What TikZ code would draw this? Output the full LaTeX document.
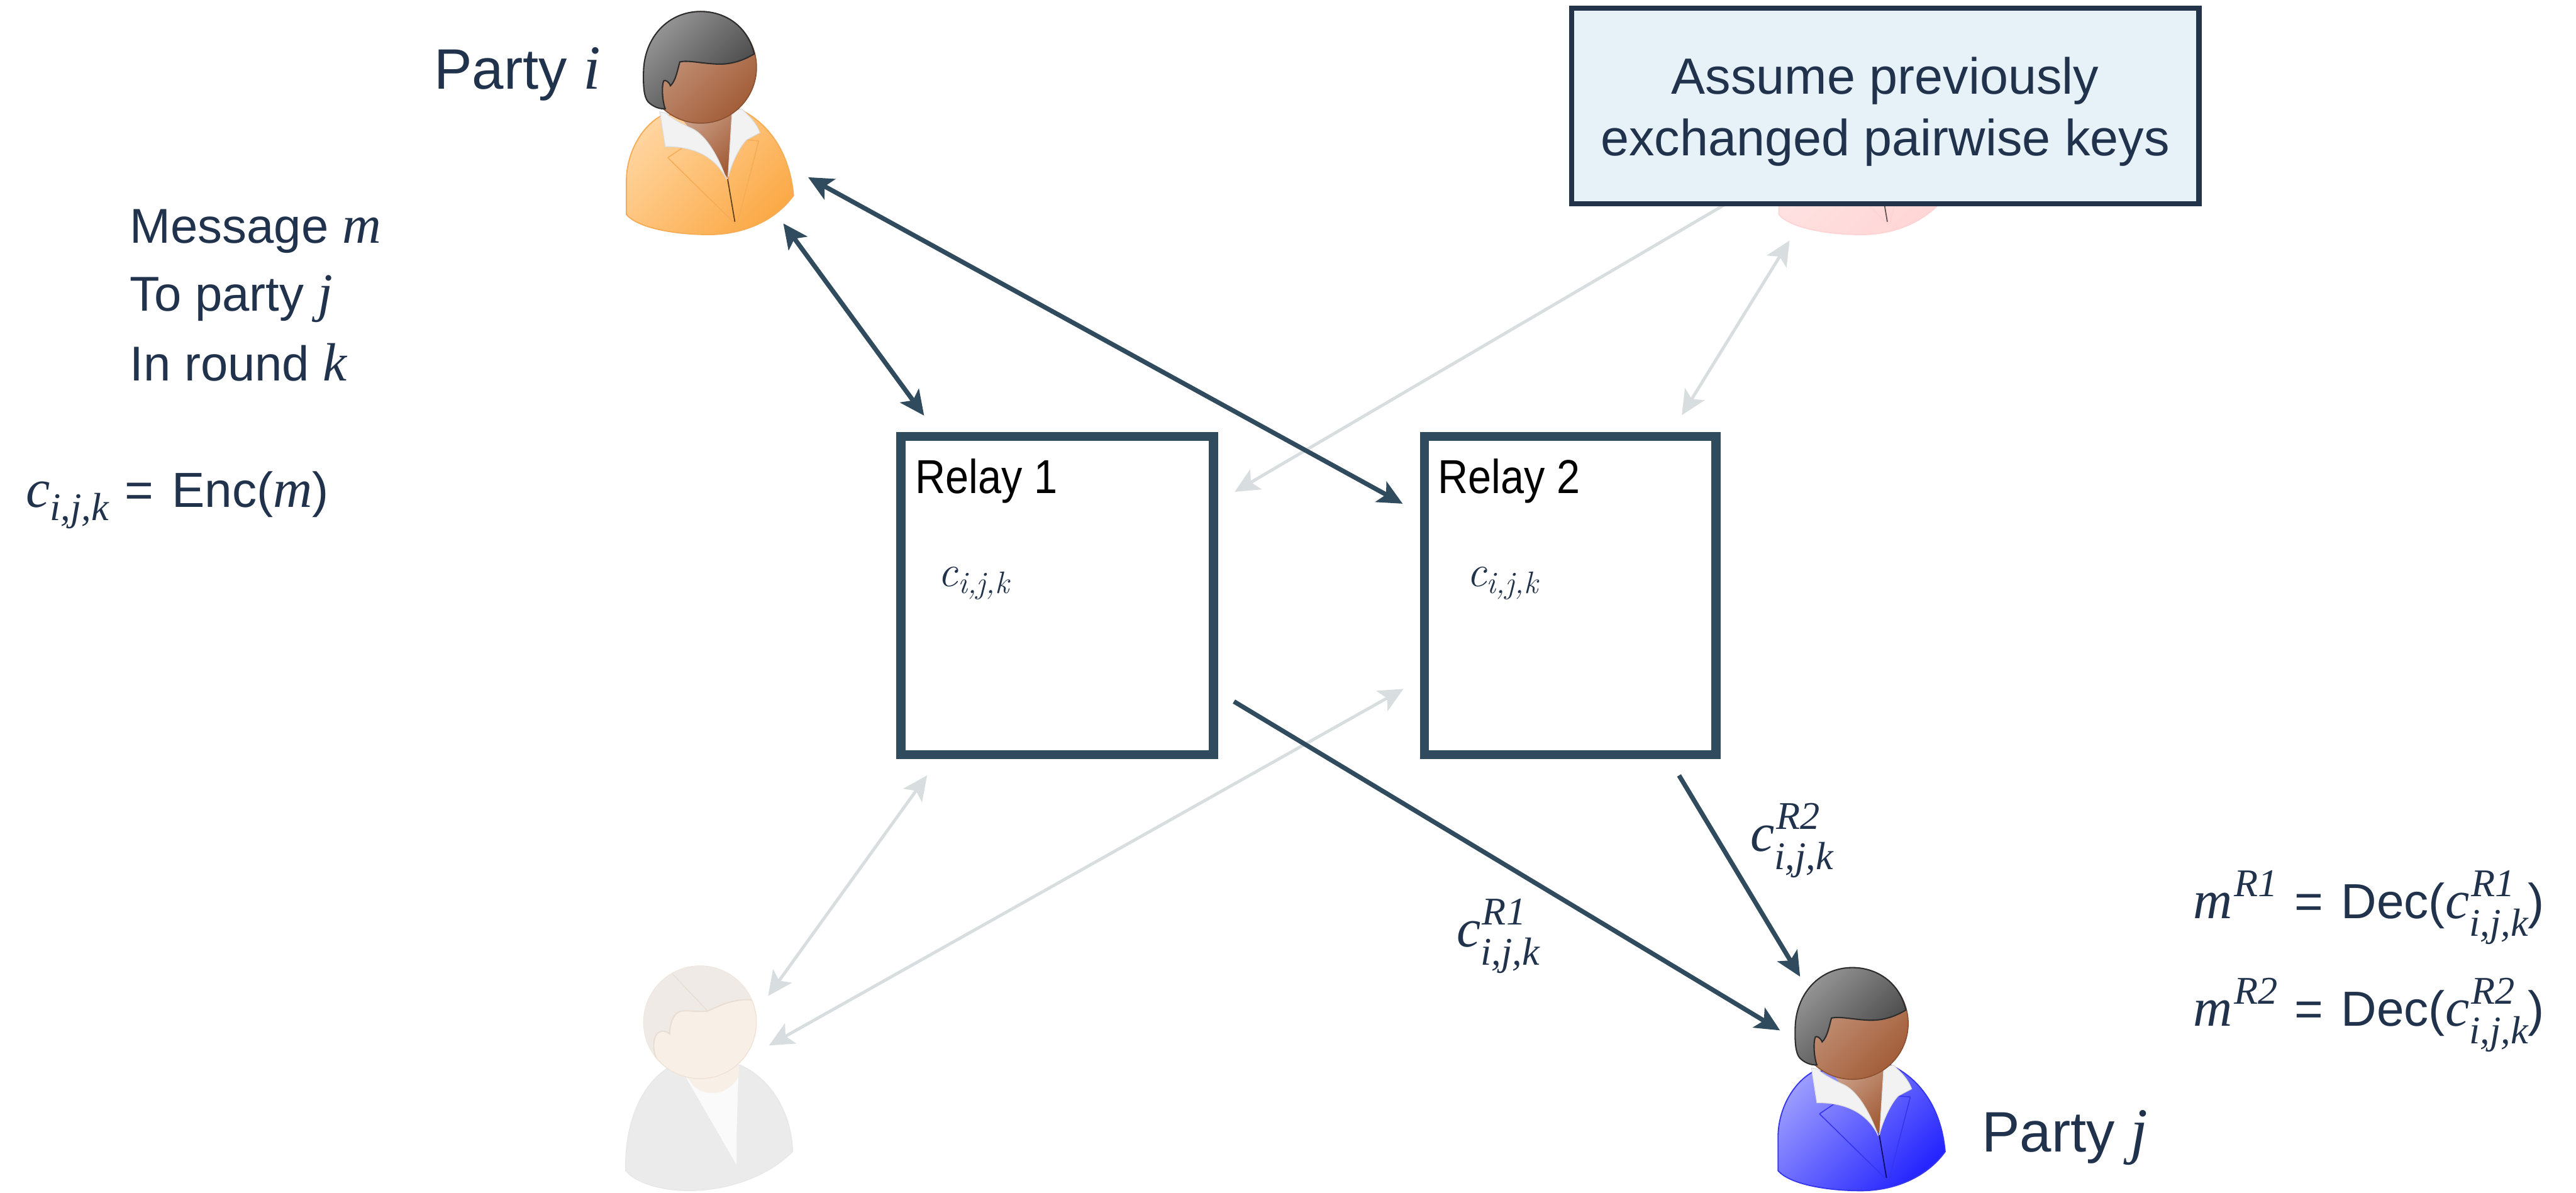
\documentclass[tikz,border=0pt]{standalone}
\usepackage{amsmath}
\usepackage{graphicx}
\usepackage{fontspec}
\setmainfont{Liberation Sans}
\newfontfamily\tms[Scale=1.1]{Liberation Serif}
\newfontfamily\lmr{Latin Modern Roman}
\usetikzlibrary{arrows.meta}

\definecolor{navy}{HTML}{21324C}
\definecolor{relayc}{HTML}{2F4B5D}
\definecolor{faint}{HTML}{D8DEE0}
\definecolor{notefill}{HTML}{E6F2F8}
\definecolor{noteedge}{HTML}{22334A}

% italic variables in the serif face, with hand-set indices
\newcommand\vt[1]{{\tms\itshape #1}}
\newcommand\vl[1]{\text{\lmr\itshape #1}}
\newcommand\scr{\fontsize{21.7}{24}\selectfont}
\newcommand\supsub[3]{\vt{#1}\makebox[0pt][l]{\kern1pt\raisebox{13.4pt}{\scr\vt{#2}}}\raisebox{-10.9pt}{\scr\vt{#3}}}
\newcommand\varsup[2]{\vt{#1}\kern1pt\raisebox{13.4pt}{\scr\vt{#2}}}
\newcommand\varsub[2]{\vt{#1}\raisebox{-8pt}{\scr\vt{#2}}}
\newcommand\eqs{\kern10pt=\kern11pt}

% person icon with bob hair and jacket, drawn around the head centre
% #1 centre, #2/#3 jacket light/dark, #4 jacket edge, #5/#6 hair light/dark,
% #7/#8 skin light/dark, #9 collar (all as HTML codes)
\newcommand\womanicon[9]{%
\begin{scope}[shift={(#1)}]
  \definecolor{jkL}{HTML}{#2}\definecolor{jkD}{HTML}{#3}\definecolor{jkE}{HTML}{#4}%
  \definecolor{hrL}{HTML}{#5}\definecolor{hrD}{HTML}{#6}%
  \definecolor{skL}{HTML}{#7}\definecolor{skD}{HTML}{#8}\definecolor{cl}{HTML}{#9}%
  \path[draw=jkE, line width=0.7pt, top color=jkL, bottom color=jkD, shading angle=45]
    (-45.2,89.6) -- (-45.2,68.4) .. controls (-45,52) and (-36,36) .. (-24.1,29.5)
    -- (23.1,25.2) .. controls (40,33) and (54,50) .. (56.5,78)
    .. controls (45,94) and (25,101.8) .. (5.2,101.8)
    .. controls (-15,101.8) and (-38,98) .. (-45.2,89.6) -- cycle;
  \draw[jkE, line width=0.6pt] (-20,55) -- (21.5,95.7) (-20,55) -- (-11,48.9)
    (35.3,44.7) -- (22.3,95) (28,44.1) -- (35.3,44.7);
  \path[top color=skL, bottom color=skD, shading angle=45]
    (-14,28) -- (19.1,26) -- (17,68) -- cycle;
  \path[fill=cl, draw=cl!90!black, line width=0.4pt]
    (-24.9,27) -- (-21.6,48.3) .. controls (-8,48) and (8,52) .. (15.8,68.4)
    .. controls (10,52) and (2,40) .. (-6.2,36.8)
    .. controls (-12,34) and (-18,31) .. (-20.8,28) -- cycle;
  \path[fill=cl, draw=cl!90!black, line width=0.4pt]
    (19.1,27) -- (24.8,25.2) .. controls (30,30) and (34,34) .. (36.1,39.8)
    -- (28,44.1) .. controls (24,48) and (19,58) .. (16.6,67.1) -- cycle;
  \draw[jkD!40!black, line width=0.7pt] (16.4,68) -- (20.8,94);
  \path[draw=skD!85!black, line width=0.6pt, top color=skL, bottom color=skD, shading angle=45]
    (0,0) circle (34);
  \path[draw=hrD!70!black, line width=0.8pt, top color=hrL, bottom color=hrD, shading angle=45]
    (32.6,-8.2) .. controls (29,-24) and (16,-34) .. (0,-34)
    .. controls (-20,-34) and (-34.5,-18) .. (-34.8,3)
    .. controls (-35,12) and (-34.5,18) .. (-32,21)
    .. controls (-29,24) and (-25,25.5) .. (-21.6,25.2)
    .. controls (-23.5,20) and (-23.8,11) .. (-22.5,8.2)
    .. controls (-21.5,7.5) and (-19.5,8.5) .. (-18.4,11.2)
    .. controls (-15,8) and (-14,1) .. (-12.7,-3.3)
    .. controls (-8,-4.5) and (0,-2.5) .. (8.5,-2.1)
    .. controls (16,-1.5) and (24,-3) .. (32.6,-8.2) -- cycle;
\end{scope}}

\begin{document}
\begin{tikzpicture}[x=1pt, y=-1pt,
  >={Stealth[length=15pt, width=14pt, inset=3.5pt]},
  strong/.style={draw=relayc, line width=2.8pt},
  weak/.style={draw=faint, line width=1.9pt},
  relaybox/.style={draw=relayc, line width=5.6pt, fill=white, inner sep=0pt, minimum height=193.8pt},
  notebox/.style={draw=noteedge, line width=3.1pt, fill=notefill, inner sep=0pt},
  txt/.style={text=navy, inner sep=0pt},
  big/.style={font=\fontsize{34.7}{40}\selectfont},
  body/.style={font=\fontsize{29.8}{36}\selectfont},
  formula/.style={font=\fontsize{30}{36}\selectfont}]

\useasboundingbox (0,0) rectangle (1568,726);

% arrow end points
\coordinate (l1s) at (751.5,299.4);   \coordinate (l1e) at (1090,101);
\coordinate (l2s) at (1089.3,146.4);  \coordinate (l2e) at (1023.7,252.7);
\coordinate (l3s) at (564.3,472);     \coordinate (l3e) at (467.5,606.3);
\coordinate (l4s) at (854.3,419.3);   \coordinate (l4e) at (468.1,636.4);
\coordinate (a1s) at (476.8,136);     \coordinate (a1e) at (562.5,253);
\coordinate (a2s) at (491.9,107.9);   \coordinate (a2e) at (853.8,306.6);
\coordinate (a3s) at (751.1,427);     \coordinate (a3e) at (1083.5,627.2);
\coordinate (a4s) at (1022,472);      \coordinate (a4e) at (1095.7,594.5);

% links of the inactive parties
\draw[weak, <->] (l1s) -- (l1e);
\draw[weak, <->] (l2s) -- (l2e);
\draw[weak, <->] (l3s) -- (l3e);
\draw[weak, <->] (l4s) -- (l4e);

% parties
\womanicon{426.5,41}{FFD49E}{FBAA48}{F6AC55}{959595}{404040}{CBA18B}{A35E39}{F2F2F2}
\womanicon{1127.5,623}{9A9AFF}{2525FF}{3535F0}{959595}{404040}{CBA18B}{A35E39}{F2F2F2}
\womanicon{1128,41}{FFE6E6}{FFD6D6}{FFD3D3}{F4EEEE}{EDE5E5}{FBF0EC}{F5E6DE}{FDFBFB}

% faded party at the lower left
\begin{scope}[shift={(426.1,622.3)}]
  \definecolor{gskin}{RGB}{248,239,230}
  \definecolor{gskinedge}{RGB}{240,228,216}
  \definecolor{ghair}{RGB}{239,234,229}
  \definecolor{ghairedge}{RGB}{232,221,210}
  \path[draw=black!9, line width=0.6pt, fill=black!8]
    (-45.2,90.3) .. controls (-46,60) and (-35,38) .. (-20.3,28.3)
    -- (24.1,25.9) .. controls (45,35) and (56,58) .. (56.3,78.7)
    .. controls (40,95) and (15,102.4) .. (-6.9,102.4)
    .. controls (-25,102.4) and (-40,97) .. (-45.2,90.3) -- cycle;
  \path[fill=black!2] (-10.6,30) -- (22.2,86.7) .. controls (22,70) and (23,45) .. (23.5,26.5) -- cycle;
  \path[fill=gskin]
    (-10.6,26) .. controls (-6,40) and (0,43) .. (8,43)
    .. controls (15,43) and (21,38) .. (23.5,33) -- (23.5,20) -- (-10.6,20) -- cycle;
  \path[fill=gskin, draw=gskinedge, line width=0.6pt] (0,0) circle (34.3);
  \begin{scope}
    \clip (0,0) circle (34.3);
    \path[fill=ghair, draw=ghairedge, line width=0.7pt]
      (45,-14) -- (32,-13.6) .. controls (20,-15) and (10,-9) .. (4.6,-6.9)
      .. controls (-2,-6) and (-10,-8) .. (-13,-6.3)
      .. controls (-17,-4) and (-18.5,2) .. (-18.5,7.1)
      .. controls (-21,4.5) and (-25,5) .. (-26.5,7.5)
      .. controls (-29,11) and (-28.5,18) .. (-26.4,22.2)
      -- (-45,22.2) -- (-45,-45) -- (45,-45) -- cycle;
    \draw[ghairedge, line width=0.5pt] (-16.7,-29.4) -- (4.6,-6.9);
  \end{scope}
\end{scope}

% relays
\node[relaybox, minimum width=190.2pt] (relay1) at (643.5,362.5) {};
\node[relaybox, minimum width=177.4pt] (relay2) at (955.7,362.5) {};

% note on the keys
\node[notebox, minimum width=382pt, minimum height=119.2pt] (note) at (1147.5,64.6) {};
\node[txt, align=center, font=\fontsize{31}{37.7}\selectfont] (notetext) at (1147.5,67.9)
  {Assume previously\\exchanged pairwise keys};

% links of the active parties
\draw[strong, <->] (a1s) -- (a1e);
\draw[strong, <->] (a2s) -- (a2e);
\draw[strong, ->] (a3s) -- (a3e);
\draw[strong, ->] (a4s) -- (a4e);

% relay contents
\node[anchor=base west, inner sep=0pt, font=\fontsize{29}{34}\selectfont] (r1name) at (557,300.3)
  {\scalebox{0.88}[1]{Relay 1}};
\node[anchor=base west, inner sep=0pt, font=\fontsize{29}{34}\selectfont] (r2name) at (875.1,300.3)
  {\scalebox{0.88}[1]{Relay 2}};
\node[txt, anchor=base west, font=\fontsize{27}{32}\selectfont] (r1c) at (570.8,356.8) {$\vl{c}_{\vl{i,j,k}}$};
\node[txt, anchor=base west, font=\fontsize{27}{32}\selectfont] (r2c) at (892.6,356.8) {$\vl{c}_{\vl{i,j,k}}$};

% party names
\node[txt, big, anchor=base west] (namei) at (264.1,54.1) {Party \vt{i}};
\node[txt, big, anchor=base west] (namej) at (1206.1,701) {Party \vt{j}};

% sender side
\node[txt, body, anchor=base west] (msg1) at (78.9,148) {Message \vt{m}};
\node[txt, body, anchor=base west] (msg2) at (78.9,189.3) {To party \vt{j}};
\node[txt, body, anchor=base west] (msg3) at (78.9,231.8) {In round \vt{k}};
\node[txt, formula, anchor=base west] (enc) at (15.5,308.9)
  {\varsub{c}{i,j,k}\eqs Enc(\vt{m})};

% ciphertexts on the way
\node[txt, formula, anchor=base west] (cr1) at (886.4,576.5) {\supsub{c}{R1}{i,j,k}};
\node[txt, formula, anchor=base west] (cr2) at (1065.3,518.2) {\supsub{c}{R2}{i,j,k}};

% receiver side
\node[txt, formula, anchor=base west] (dec1) at (1335,558.9)
  {\varsup{m}{R1}\eqs Dec(\supsub{c}{R1}{i,j,k})};
\node[txt, formula, anchor=base west] (dec2) at (1335,624.5)
  {\varsup{m}{R2}\eqs Dec(\supsub{c}{R2}{i,j,k})};
\end{tikzpicture}
\end{document}
